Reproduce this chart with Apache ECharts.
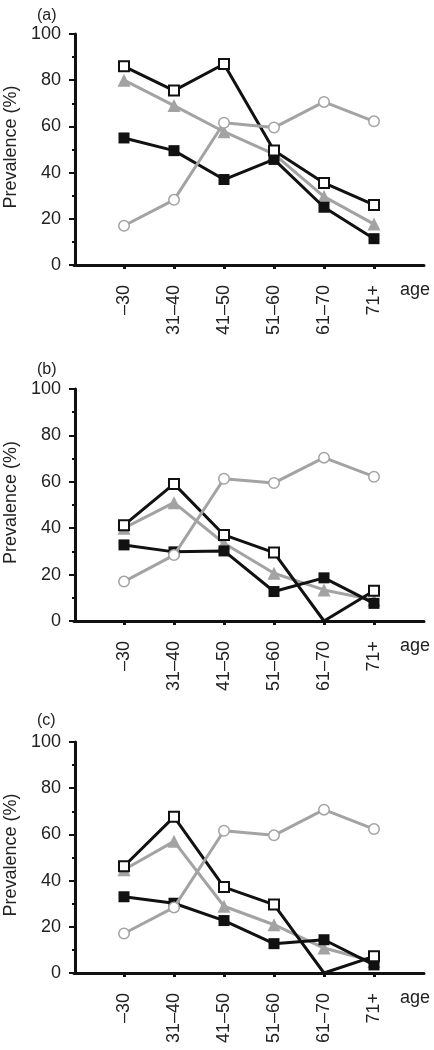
<!DOCTYPE html>
<html>
<head>
<meta charset="utf-8">
<script src="https://cdn.jsdelivr.net/npm/echarts@6/dist/echarts.min.js"></script>
<style>
html,body{margin:0;padding:0;background:#fff;}
#chart{width:434px;height:1050px;}
</style>
</head>
<body>
<div id="chart"></div>
<script>
// ---- data ----
const categories = ['–30', '31–40', '41–50', '51–60', '61–70', '71+'];
const yTicks = [0, 20, 40, 60, 80, 100];
const panelLabels = ['(a)', '(b)', '(c)'];

const aBlack    = [55, 49.5, 37, 45.7, 25, 11.4];
const aWhite    = [86, 75.5, 87, 49.6, 35.5, 26];
const aTriangle = [80, 69, 57.7, 48, 29.6, 17.7];
const aCircle   = [17, 28.2, 61.6, 59.5, 70.6, 62.2];

const bBlack    = [32.8, 29.8, 30.2, 12.7, 18.6, 7.6];
const bWhite    = [41.3, 59.1, 37.1, 29.5, 0, 13];
const bTriangle = [40, 51, 33.5, 20.6, 13.4, 9];
const bCircle   = [17, 28.4, 61.3, 59.5, 70.4, 62.2];

const cBlack    = [33, 30.2, 22.7, 12.7, 14.4, 3.5];
const cWhite    = [46.2, 67.6, 37.2, 29.6, 0, 7.2];
const cTriangle = [44.7, 57, 28.9, 20.9, 10.8, 5];
const cCircle   = [17.1, 28.4, 61.6, 59.6, 70.7, 62.3];

const panels = [
  {black: aBlack, white: aWhite, tri: aTriangle, circ: aCircle},
  {black: bBlack, white: bWhite, tri: bTriangle, circ: bCircle},
  {black: cBlack, white: cWhite, tri: cTriangle, circ: cCircle}
];

// ---- layout / style ----
const gridTops = [34, 389, 742];
const gridHeights = [231, 232, 231];
const labelTops = [3, 357, 708];
const BLACK = '#111';
const GRAY = '#a3a3a3';
const TEXT = '#222';
const FONT = '"Liberation Sans", Arial, Helvetica, sans-serif';

const xSlots = [''].concat(categories, ['']);
function pad(arr, hideZero) {
  const d = arr.map(v => (hideZero && v === 0) ? {value: v, symbol: 'none'} : v);
  return [null].concat(d, [null]);
}

const grids = [], xAxes = [], yAxes = [], series = [], titles = [];
panels.forEach((p, i) => {
  grids.push({left: 74, width: 350, top: gridTops[i], height: gridHeights[i],
    containLabel: false, outerBoundsMode: 'none'});
  titles.push({text: panelLabels[i], left: 32, top: labelTops[i],
    textStyle: {fontSize: 16, fontWeight: 'normal', color: TEXT, fontFamily: FONT}});
  xAxes.push({
    type: 'category', gridIndex: i, data: xSlots, boundaryGap: false,
    axisLine: {show: true, lineStyle: {color: BLACK, width: 3}},
    axisTick: {show: true, length: 4, inside: false, lineStyle: {color: BLACK, width: 3},
      interval: (idx, val) => val !== ''},
    axisLabel: {rotate: 90, margin: 20, fontSize: 18, color: TEXT, fontFamily: FONT,
      interval: (idx, val) => val !== ''},
    splitLine: {show: false},
    name: 'age', nameLocation: 'end', nameGap: -24,
    nameTextStyle: {fontSize: 18, color: TEXT, fontFamily: FONT, verticalAlign: 'top', align: 'left', padding: [16, 0, 0, 0]}
  });
  yAxes.push({
    type: 'value', gridIndex: i, min: yTicks[0], max: yTicks[yTicks.length - 1], interval: 20,
    offset: -1,
    axisLine: {show: true, lineStyle: {color: BLACK, width: 3}},
    axisTick: {show: true, length: 6, lineStyle: {color: BLACK, width: 2}},
    minorTick: {show: true, splitNumber: 2, length: 3, lineStyle: {color: BLACK, width: 2}},
    splitLine: {show: false}, minorSplitLine: {show: false},
    axisLabel: {fontSize: 18, color: TEXT, fontFamily: FONT, margin: 14},
    name: 'Prevalence (%)', nameLocation: 'middle', nameGap: 55, nameRotate: 90,
    nameTextStyle: {fontSize: 18, color: TEXT, fontFamily: FONT, padding: [0, 0, 0, 5]}
  });
  series.push({
    type: 'line', xAxisIndex: i, yAxisIndex: i, data: pad(p.tri),
    symbol: 'triangle', symbolSize: 13,
    lineStyle: {color: GRAY, width: 3}, itemStyle: {color: GRAY, borderWidth: 0},
    z: 2, animation: false
  });
  series.push({
    type: 'line', xAxisIndex: i, yAxisIndex: i, data: pad(p.black),
    symbol: 'rect', symbolSize: 11,
    lineStyle: {color: BLACK, width: 3}, itemStyle: {color: BLACK, borderWidth: 0},
    z: 3, animation: false
  });
  series.push({
    type: 'line', xAxisIndex: i, yAxisIndex: i, data: pad(p.white, true),
    symbol: 'rect', symbolSize: 10,
    lineStyle: {color: BLACK, width: 3}, itemStyle: {color: '#fff', borderColor: BLACK, borderWidth: 2},
    z: 4, animation: false
  });
  series.push({
    type: 'line', xAxisIndex: i, yAxisIndex: i, data: pad(p.circ),
    symbol: 'circle', symbolSize: 10.5,
    lineStyle: {color: GRAY, width: 3}, itemStyle: {color: '#fff', borderColor: GRAY, borderWidth: 1.5},
    z: 5, animation: false
  });
});

const chart = echarts.init(document.getElementById('chart'), null, {renderer: 'canvas'});
chart.setOption({
  animation: false,
  backgroundColor: '#fff',
  title: titles,
  grid: grids,
  xAxis: xAxes,
  yAxis: yAxes,
  series: series
});
</script>
</body>
</html>
